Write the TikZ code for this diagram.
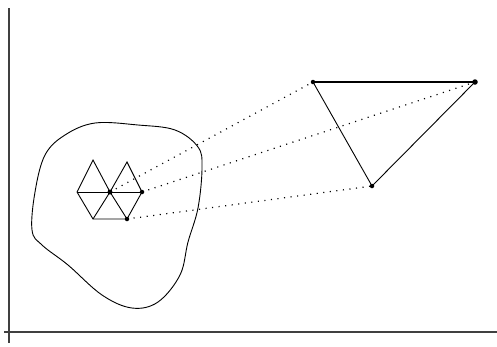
\documentclass[tikz,border=0pt]{standalone}
\begin{document}
\begin{tikzpicture}[x=1pt,y=-1pt,
  axis/.style={line width=1.4pt,draw=black!75},
  edge/.style={line width=0.9pt},
  dotline/.style={line width=1.2pt,dash pattern=on 1.1pt off 5.5pt},
  pt/.style={circle,fill=black,inner sep=0pt,minimum size=4.5pt}]
\useasboundingbox (0,0) rectangle (497,346);
% axes
\coordinate (ytop) at (9,8);
\coordinate (ybot) at (9,343);
\coordinate (xl) at (4,332);
\coordinate (xr) at (497,332);
\draw[axis] (ytop) -- (ybot);
\draw[axis] (xl) -- (xr);
% blob
\draw[edge] plot[smooth cycle,tension=0.6] coordinates {(95,123) (138,125) (175,130) (198,147) (202,168) (198,208) (188,242) (180,275) (158,302) (132,308) (102,295) (68,265) (42,245) (32,230) (35,192) (45,155) (65,135)};
% hexagon points
\node[pt,minimum size=5pt] (c) at (110,192) {};
\node[pt] (r) at (142,192) {};
\node[pt] (br) at (127,219) {};
\coordinate (l) at (77,192);
\coordinate (tl) at (93,160);
\coordinate (tr) at (127,162);
\coordinate (bl) at (93,219);
\draw[edge] (l) -- (tl) -- (c.center) -- (tr) -- (r.center);
\draw[edge] (l) -- (r.center);
\draw[edge] (l) -- (bl) -- (br.center) -- (r.center);
\draw[edge] (bl) -- (c.center) -- (br.center);
% triangle
\node[pt] (A) at (313,82) {};
\node[pt,minimum size=5.5pt] (B) at (475,82) {};
\node[pt] (C) at (372,186) {};
\draw[line width=1.6pt] (A.center) -- (B.center);
\draw[edge] (A.center) -- (C.center) -- (B.center);
% dotted connectors
\draw[dotline] (c.center) -- (A.center);
\draw[dotline] (r.center) -- (B.center);
\draw[dotline] (br.center) -- (C.center);
\end{tikzpicture}
\end{document}
